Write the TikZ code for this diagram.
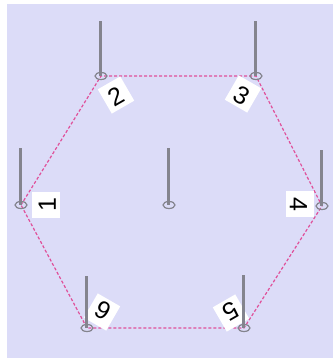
\documentclass[tikz,border=0pt]{standalone}
\usepackage{fontspec}
\setmainfont{Liberation Sans}
\usetikzlibrary{shapes.geometric}
\definecolor{bgcol}{HTML}{DCDCF8}
\definecolor{pincol}{HTML}{84848E}
\definecolor{hexcol}{HTML}{E0509A}
\tikzset{
  pinstem/.style={draw=pincol, line width=3pt},
  pinhead/.style={ellipse, draw=pincol, line width=1.2pt, minimum width=12pt, minimum height=7pt, inner sep=0pt},
  hexline/.style={draw=hexcol, line width=1.2pt, dash pattern=on 3pt off 2pt},
  numlabel/.style={fill=white, inner xsep=6pt, inner ysep=3pt, text height=21pt, text depth=1pt, font=\fontsize{25}{27}\selectfont}
}
\begin{document}
\begin{tikzpicture}[x=1pt,y=-1pt]
\useasboundingbox (0,0) rectangle (334,360);
\fill[bgcol] (7,4) rectangle (333,358);
% vertices
\coordinate (v1) at (21,205);
\coordinate (v2) at (101,76);
\coordinate (v3) at (256,76);
\coordinate (v4) at (322,206);
\coordinate (v5) at (244,328);
\coordinate (v6) at (87,328);
\coordinate (vc) at (169,205);
% pin tops
\coordinate (t1) at (21,148);
\coordinate (t2) at (101,21);
\coordinate (t3) at (256,21);
\coordinate (t4) at (322,150);
\coordinate (t5) at (244,275);
\coordinate (t6) at (87,276);
\coordinate (tc) at (169,148);
% dashed hexagon
\draw[hexline] (v1) -- (v2) -- (v3) -- (v4) -- (v5) -- (v6) -- cycle;
% labels
\node[numlabel, rotate=90]  (l1) at (46,205) {1};
\node[numlabel, rotate=30]  (l2) at (116,95) {2};
\node[numlabel, rotate=-30] (l3) at (243,94) {3};
\node[numlabel, rotate=-90] (l4) at (300,204) {4};
\node[numlabel, rotate=210] (l5) at (231,313) {5};
\node[numlabel, rotate=150] (l6) at (102,312) {6};
% pins
\foreach \i in {1,2,3,4,5,6,c}{
  \node[pinhead] (h\i) at (v\i) {};
  \draw[pinstem] (t\i) -- (v\i);
}
\end{tikzpicture}
\end{document}
